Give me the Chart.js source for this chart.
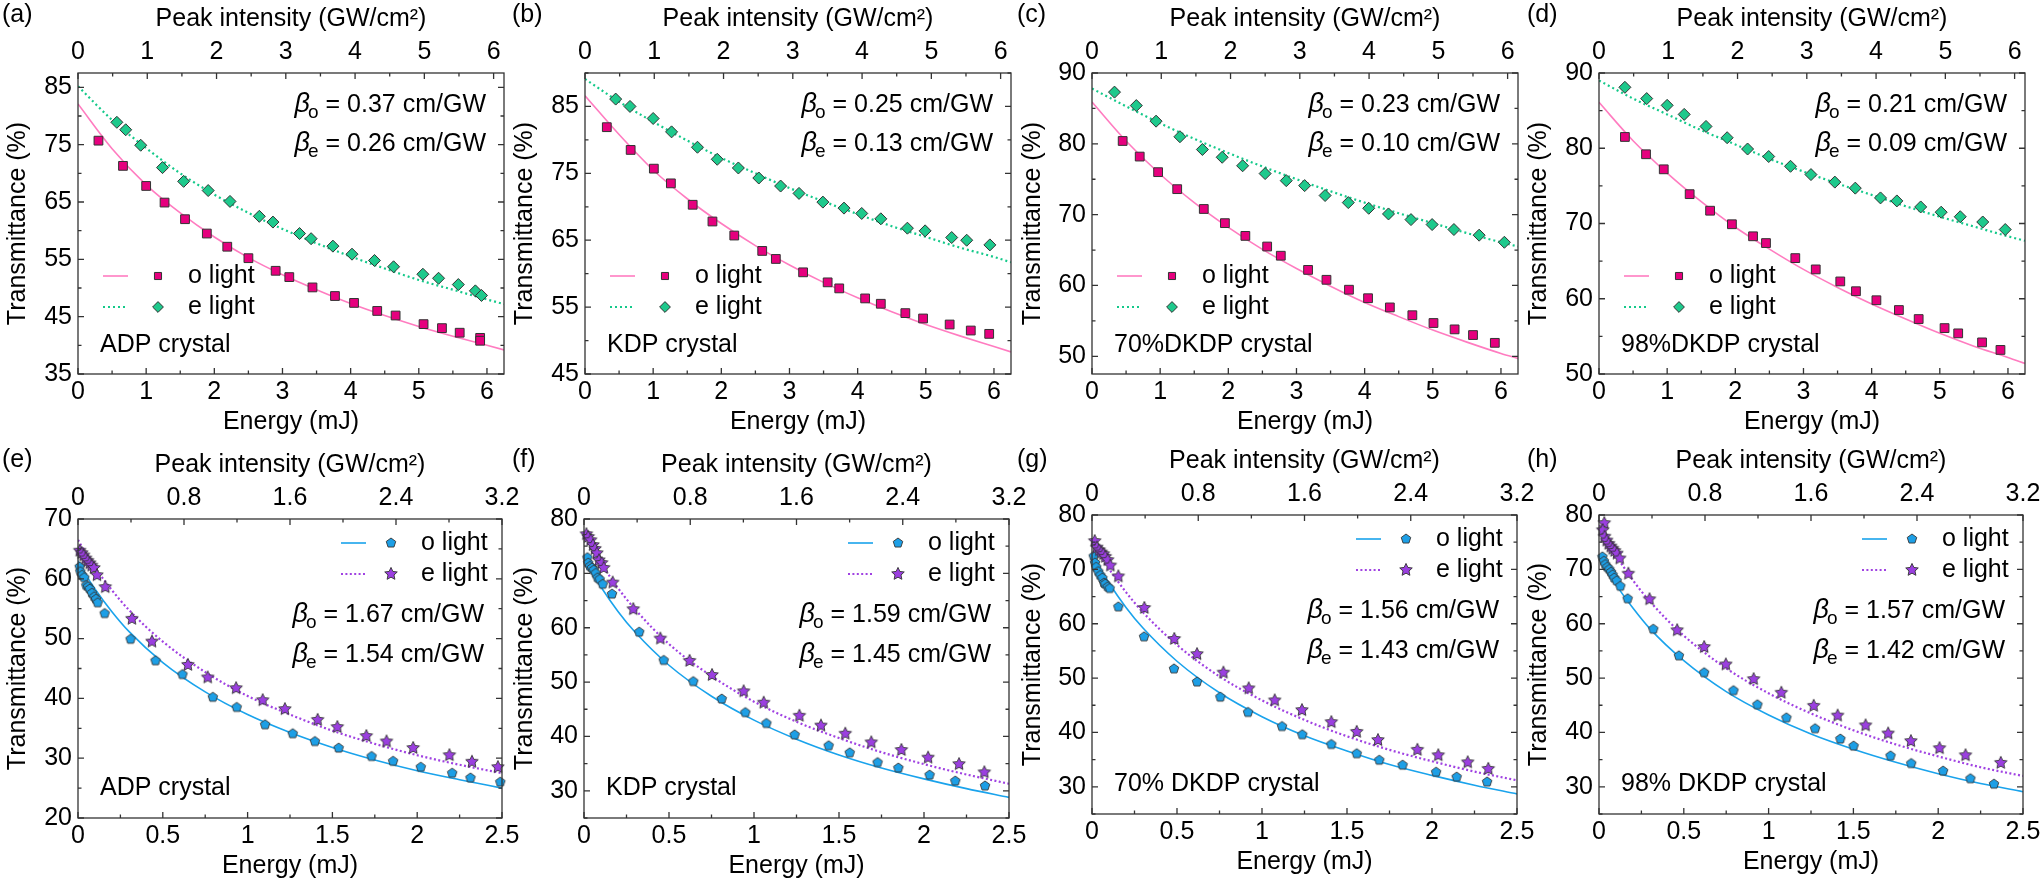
<!DOCTYPE html>
<html>
<head>
<meta charset="utf-8">
<title>Transmittance vs energy</title>
<script src="https://cdn.jsdelivr.net/npm/chart.js@4.4.1/dist/chart.umd.min.js"></script>
<style>
  html, body { margin: 0; padding: 0; background: #fff; }
  body { position: relative; width: 2043px; height: 883px; overflow: hidden; }
  canvas { position: absolute; }
</style>
</head>
<body>
<script>
// ---- data ----
// energy grids the fitted curves were read at
const fitGridTop = [0, 0.5, 1, 1.5, 2, 2.5, 3, 3.5, 4, 4.5, 5, 5.5, 6, 6.25];
const fitGridBottom = [0, 0.05, 0.1, 0.2, 0.3, 0.5, 0.75, 1, 1.25, 1.5, 1.75, 2, 2.25, 2.5];

// (a) ADP
const aOEnergy = [0.30, 0.66, 1.00, 1.27, 1.57, 1.89, 2.19, 2.50, 2.90, 3.10, 3.44, 3.77, 4.05, 4.39, 4.66, 5.07, 5.34, 5.60, 5.90, 5.90];
const aOTrans = [75.7, 71.3, 67.8, 64.9, 62.0, 59.5, 57.2, 55.2, 53.0, 51.9, 50.1, 48.6, 47.4, 46.0, 45.2, 43.7, 43.0, 42.2, 41.3, 40.8];
const aEEnergy = [0.57, 0.70, 0.92, 1.24, 1.55, 1.91, 2.23, 2.66, 2.86, 3.25, 3.42, 3.74, 4.02, 4.35, 4.63, 5.06, 5.29, 5.58, 5.83, 5.92];
const aETrans = [78.9, 77.6, 74.9, 71.0, 68.6, 67.0, 65.1, 62.5, 61.5, 59.5, 58.6, 57.3, 55.9, 54.8, 53.7, 52.4, 51.7, 50.6, 49.5, 48.7];
const aOFit = [82.1, 74.3, 68.0, 63.1, 58.9, 55.3, 52.3, 49.7, 47.3, 45.2, 43.3, 41.6, 40.0, 39.2];
const aEFit = [85.2, 79.3, 74.4, 70.0, 66.3, 63.1, 60.3, 57.8, 55.5, 53.4, 51.4, 49.7, 48.0, 47.2];

// (b) KDP
const bOEnergy = [0.32, 0.67, 1.01, 1.26, 1.58, 1.87, 2.19, 2.60, 2.80, 3.20, 3.56, 3.73, 4.11, 4.34, 4.70, 4.96, 5.35, 5.66, 5.93];
const bOTrans = [81.9, 78.5, 75.7, 73.5, 70.3, 67.8, 65.7, 63.4, 62.2, 60.2, 58.7, 57.8, 56.3, 55.5, 54.1, 53.3, 52.4, 51.5, 51.0];
const bEEnergy = [0.45, 0.66, 1.00, 1.27, 1.65, 1.94, 2.25, 2.55, 2.87, 3.14, 3.49, 3.80, 4.06, 4.34, 4.73, 4.99, 5.38, 5.60, 5.94];
const bETrans = [86.1, 85.0, 83.2, 81.2, 78.9, 77.1, 75.8, 74.3, 73.1, 72.0, 70.7, 69.8, 69.0, 68.2, 66.8, 66.4, 65.4, 65.0, 64.3];
const bOFit = [86.6, 80.8, 75.5, 71.2, 67.5, 64.2, 61.3, 58.7, 56.4, 54.3, 52.4, 50.7, 49.1, 48.3];
const bEFit = [89.1, 85.7, 82.7, 79.9, 77.3, 75.0, 72.8, 70.8, 68.9, 67.1, 65.5, 63.9, 62.5, 61.7];

// (c) 70% DKDP
const cOEnergy = [0.45, 0.70, 0.97, 1.25, 1.64, 1.95, 2.25, 2.57, 2.77, 3.17, 3.44, 3.77, 4.05, 4.37, 4.70, 5.01, 5.32, 5.59, 5.91];
const cOTrans = [80.4, 78.2, 76.0, 73.6, 70.8, 68.8, 67.0, 65.5, 64.2, 62.2, 60.8, 59.4, 58.2, 56.9, 55.8, 54.7, 53.8, 53.0, 51.9];
const cEEnergy = [0.33, 0.65, 0.94, 1.29, 1.62, 1.91, 2.21, 2.54, 2.85, 3.12, 3.42, 3.76, 4.06, 4.35, 4.68, 4.99, 5.31, 5.68, 6.05];
const cETrans = [87.3, 85.4, 83.2, 81.0, 79.2, 78.1, 76.9, 75.8, 74.8, 74.1, 72.7, 71.7, 70.9, 70.1, 69.3, 68.6, 67.9, 67.1, 66.1];
const cOFit = [85.9, 80.4, 75.7, 71.7, 68.2, 65.1, 62.4, 59.9, 57.6, 55.6, 53.7, 52.0, 50.4, 49.7];
const cEFit = [87.8, 85.3, 82.9, 80.7, 78.7, 76.8, 75.0, 73.3, 71.7, 70.2, 68.8, 67.4, 66.1, 65.5];

// (d) 98% DKDP
const dOEnergy = [0.38, 0.69, 0.95, 1.33, 1.63, 1.95, 2.26, 2.45, 2.88, 3.18, 3.54, 3.77, 4.07, 4.40, 4.69, 5.07, 5.27, 5.62, 5.89];
const dOTrans = [81.5, 79.2, 77.2, 73.9, 71.7, 69.9, 68.3, 67.4, 65.4, 63.9, 62.3, 61.0, 59.8, 58.5, 57.3, 56.1, 55.4, 54.2, 53.2];
const dEEnergy = [0.38, 0.70, 1.00, 1.25, 1.57, 1.88, 2.18, 2.49, 2.81, 3.11, 3.46, 3.76, 4.13, 4.37, 4.72, 5.02, 5.30, 5.63, 5.96];
const dETrans = [88.1, 86.6, 85.7, 84.5, 82.9, 81.4, 79.9, 78.9, 77.6, 76.5, 75.5, 74.7, 73.4, 73.0, 72.2, 71.5, 70.9, 70.2, 69.2];
const dOFit = [86.1, 81.0, 76.7, 72.9, 69.5, 66.6, 63.9, 61.5, 59.3, 57.3, 55.4, 53.7, 52.2, 51.4];
const dEFit = [89.0, 86.6, 84.5, 82.4, 80.5, 78.6, 76.9, 75.3, 73.8, 72.3, 70.9, 69.6, 68.3, 67.7];

// (e) ADP
const eOEnergy = [0.01, 0.014, 0.024, 0.037, 0.049, 0.059, 0.069, 0.082, 0.096, 0.106, 0.116, 0.157, 0.31, 0.457, 0.616, 0.795, 0.936, 1.103, 1.266, 1.397, 1.537, 1.731, 1.858, 2.021, 2.206, 2.314, 2.49];
const eOTrans = [62.0, 61.2, 60.6, 60.2, 58.9, 58.7, 58.3, 57.6, 57.0, 56.6, 56.0, 54.2, 49.9, 46.3, 44.0, 40.2, 38.5, 35.6, 34.1, 32.8, 31.7, 30.3, 29.5, 28.5, 27.5, 26.7, 26.0];
const eEEnergy = [0.01, 0.022, 0.033, 0.045, 0.057, 0.069, 0.080, 0.094, 0.112, 0.161, 0.318, 0.436, 0.648, 0.765, 0.932, 1.089, 1.22, 1.413, 1.529, 1.70, 1.819, 1.976, 2.19, 2.323, 2.476];
const eETrans = [64.7, 64.3, 63.9, 63.4, 63.0, 62.6, 62.2, 61.8, 60.6, 58.6, 53.3, 49.5, 45.6, 43.5, 41.7, 39.7, 38.2, 36.4, 35.2, 33.7, 32.8, 31.7, 30.5, 29.4, 28.5];
const eOFit = [63.0, 60.5, 58.3, 54.5, 51.2, 46.0, 41.1, 37.3, 34.3, 31.8, 29.7, 27.9, 26.4, 25.0];
const eEFit = [66.5, 64.1, 61.9, 58.1, 54.8, 49.5, 44.4, 40.4, 37.3, 34.6, 32.4, 30.5, 28.9, 27.5];

// (f) KDP
const fOEnergy = [0.02, 0.025, 0.035, 0.047, 0.057, 0.069, 0.08, 0.092, 0.11, 0.165, 0.325, 0.469, 0.643, 0.81, 0.949, 1.073, 1.239, 1.439, 1.563, 1.727, 1.849, 2.033, 2.184, 2.359];
const fOTrans = [72.9, 71.9, 71.3, 71.0, 70.6, 70.0, 69.2, 68.9, 68.0, 66.2, 59.2, 54.0, 50.1, 46.9, 44.4, 42.4, 40.3, 38.3, 37.0, 35.2, 34.2, 32.9, 31.8, 30.9];
const fEEnergy = [0.014, 0.025, 0.039, 0.053, 0.065, 0.076, 0.088, 0.104, 0.116, 0.169, 0.29, 0.449, 0.621, 0.753, 0.939, 1.057, 1.267, 1.394, 1.537, 1.69, 1.867, 2.024, 2.206, 2.355];
const fETrans = [77.2, 76.7, 76.1, 75.2, 74.5, 73.7, 72.4, 71.9, 71.0, 68.3, 63.4, 58.0, 53.9, 51.3, 48.3, 46.2, 43.8, 42.0, 40.5, 38.9, 37.5, 36.1, 34.9, 33.4];
const fOFit = [73.0, 70.1, 67.5, 63.0, 59.2, 53.1, 47.4, 43.0, 39.5, 36.6, 34.2, 32.2, 30.4, 28.8];
const fEFit = [77.4, 74.5, 71.9, 67.3, 63.4, 57.0, 51.1, 46.4, 42.7, 39.7, 37.1, 34.9, 33.0, 31.3];

// (g) 70% DKDP
const gOEnergy = [0.01, 0.018, 0.025, 0.037, 0.049, 0.061, 0.071, 0.078, 0.092, 0.104, 0.155, 0.306, 0.482, 0.618, 0.755, 0.918, 1.118, 1.237, 1.408, 1.557, 1.69, 1.827, 2.024, 2.145, 2.324];
const gOTrans = [72.4, 71.2, 70.4, 69.6, 68.9, 68.4, 67.5, 67.3, 66.8, 66.5, 63.1, 57.6, 51.7, 49.3, 46.5, 43.7, 41.1, 39.6, 37.8, 36.1, 34.9, 34.0, 32.7, 31.8, 30.9];
const gEEnergy = [0.016, 0.029, 0.043, 0.055, 0.067, 0.078, 0.092, 0.108, 0.155, 0.308, 0.484, 0.618, 0.773, 0.922, 1.075, 1.235, 1.408, 1.557, 1.682, 1.914, 2.037, 2.21, 2.331];
const gETrans = [75.2, 74.0, 73.5, 73.1, 72.8, 72.3, 71.7, 70.7, 68.7, 62.9, 57.2, 54.4, 51.0, 48.1, 45.9, 44.1, 41.9, 40.1, 38.6, 36.8, 35.8, 34.5, 33.3];
const gOFit = [73.0, 70.1, 67.5, 63.0, 59.2, 53.1, 47.3, 42.9, 39.4, 36.6, 34.1, 32.1, 30.3, 28.7];
const gEFit = [75.3, 72.6, 70.1, 65.8, 62.1, 56.1, 50.3, 45.9, 42.3, 39.3, 36.8, 34.7, 32.8, 31.2];

// (h) 98% DKDP
const hOEnergy = [0.02, 0.029, 0.037, 0.049, 0.061, 0.071, 0.08, 0.09, 0.104, 0.126, 0.169, 0.32, 0.471, 0.62, 0.793, 0.934, 1.105, 1.274, 1.423, 1.501, 1.719, 1.841, 2.029, 2.19, 2.329];
const hOTrans = [72.3, 71.5, 70.9, 70.4, 70.0, 69.5, 69.0, 68.4, 67.9, 66.9, 64.6, 59.0, 54.1, 51.0, 47.7, 45.1, 42.7, 40.7, 38.8, 37.5, 35.7, 34.3, 32.9, 31.5, 30.5];
const hEEnergy = [0.031, 0.022, 0.033, 0.045, 0.057, 0.069, 0.08, 0.092, 0.106, 0.122, 0.173, 0.298, 0.461, 0.62, 0.748, 0.912, 1.075, 1.266, 1.407, 1.572, 1.705, 1.839, 2.008, 2.161, 2.369];
const hETrans = [78.5, 77.2, 76.0, 75.3, 74.7, 74.2, 73.8, 73.4, 72.9, 72.0, 69.2, 64.5, 58.8, 55.7, 52.5, 49.8, 47.3, 44.9, 43.1, 41.3, 39.8, 38.4, 37.1, 35.8, 34.4];
const hOFit = [72.5, 69.7, 67.2, 62.9, 59.1, 53.2, 47.5, 43.2, 39.7, 36.9, 34.5, 32.4, 30.6, 29.1];
const hEFit = [78.1, 75.2, 72.6, 68.0, 64.1, 57.8, 51.8, 47.2, 43.5, 40.4, 37.8, 35.6, 33.6, 32.0];

// tick labels
const energyTicksTop = [0, 1, 2, 3, 4, 5, 6];
const peakTicksTop = [0, 1, 2, 3, 4, 5, 6];
const energyTicksBottom = [0, 0.5, 1, 1.5, 2, 2.5];
const peakTicksBottom = [0, 0.8, 1.6, 2.4, 3.2];
const yTicksA = [35, 45, 55, 65, 75, 85];
const yTicksB = [45, 55, 65, 75, 85];
const yTicksCD = [50, 60, 70, 80, 90];
const yTicksE = [20, 30, 40, 50, 60, 70];
const yTicksFGH = [30, 40, 50, 60, 70, 80];

const letters = ['(a)', '(b)', '(c)', '(d)', '(e)', '(f)', '(g)', '(h)'];
const crystals = ['ADP crystal', 'KDP crystal', '70%DKDP crystal', '98%DKDP crystal',
                  'ADP crystal', 'KDP crystal', '70% DKDP crystal', '98% DKDP crystal'];
const betaO = ['0.37', '0.25', '0.23', '0.21', '1.67', '1.59', '1.56', '1.57'];
const betaE = ['0.26', '0.13', '0.10', '0.09', '1.54', '1.45', '1.43', '1.42'];

// ---- layout (page pixels) ----
const canvasLeft = [0, 507, 1015, 1521];
const letterX = [2, 512, 1017, 1527];
// plot area: left, top, right, bottom
const plotBoxes = [
  [78, 73, 504, 374], [585, 73, 1011, 374], [1092, 73, 1518, 374], [1599, 73, 2025, 374],
  [78, 519, 502, 818], [584, 519, 1009, 818], [1092, 515, 1517, 814], [1599, 515, 2023, 814]
];
const yRanges = [[35, 87.5], [45, 90], [47.5, 90], [50, 90], [20, 70], [25, 80], [25, 80], [25, 80]];

const FONT = '"Liberation Sans", Arial, Helvetica, sans-serif';
Chart.defaults.font.family = FONT;
Chart.defaults.color = '#000';

function shape(kind, r, fill) {
  const s = Math.ceil(2 * r + 4);
  const c = document.createElement('canvas');
  c.width = s; c.height = s;
  const g = c.getContext('2d');
  g.translate(s / 2, s / 2);
  g.beginPath();
  const n = kind === 'star' ? 10 : 5;
  for (let i = 0; i < n; i++) {
    const ang = -Math.PI / 2 + i * 2 * Math.PI / n;
    const rr = (kind === 'star' && i % 2) ? r * 0.48 : r;
    g.lineTo(rr * Math.cos(ang), rr * Math.sin(ang));
  }
  g.closePath();
  g.fillStyle = fill; g.fill();
  g.lineWidth = 0.9; g.strokeStyle = '#333'; g.stroke();
  return c;
}

const topStyle = {
  oFill: '#e6007e', oLine: '#ff7cc0', eFill: '#1ec98c', eLine: '#14c98a',
  oPoint: 'rect', oRadius: 6.2, ePoint: 'rectRot', eRadius: 6, eDash: [2, 3],
  legO: 'rect', legORadius: 5, legE: 'rectRot', legERadius: 5.4
};
const pent = shape('pent', 5, '#1d9fe6');
const star = shape('star', 6.6, '#9b3fe0');
const bottomStyle = {
  oFill: '#1d9fe6', oLine: '#1aa3ec', eFill: '#9b3fe0', eLine: '#a042e2',
  oPoint: pent, oRadius: 5, ePoint: star, eRadius: 6, eDash: [2, 2.4],
  legO: pent, legE: star
};

const panels = [
  { oE: aOEnergy, oT: aOTrans, eE: aEEnergy, eT: aETrans, oFit: aOFit, eFit: aEFit, yTicks: yTicksA },
  { oE: bOEnergy, oT: bOTrans, eE: bEEnergy, eT: bETrans, oFit: bOFit, eFit: bEFit, yTicks: yTicksB },
  { oE: cOEnergy, oT: cOTrans, eE: cEEnergy, eT: cETrans, oFit: cOFit, eFit: cEFit, yTicks: yTicksCD },
  { oE: dOEnergy, oT: dOTrans, eE: dEEnergy, eT: dETrans, oFit: dOFit, eFit: dEFit, yTicks: yTicksCD },
  { oE: eOEnergy, oT: eOTrans, eE: eEEnergy, eT: eETrans, oFit: eOFit, eFit: eEFit, yTicks: yTicksE },
  { oE: fOEnergy, oT: fOTrans, eE: fEEnergy, eT: fETrans, oFit: fOFit, eFit: fEFit, yTicks: yTicksFGH },
  { oE: gOEnergy, oT: gOTrans, eE: gEEnergy, eT: gETrans, oFit: gOFit, eFit: gEFit, yTicks: yTicksFGH },
  { oE: hOEnergy, oT: hOTrans, eE: hEEnergy, eT: hETrans, oFit: hOFit, eFit: hEFit, yTicks: yTicksFGH }
];

function pts(xs, ys) {
  return xs.map((x, i) => ({ x: x, y: ys[i] }));
}

// minor ticks sit halfway between the labelled ones
function halfSteps(major, min, max) {
  const step = major[1] - major[0];
  const out = [];
  for (let v = major[0] - step / 2; v <= max + 1e-9; v += step) {
    if (v >= min - 1e-9) out.push(v);
  }
  return out;
}

function drawMarker(ctx, kind, r, x, y, fill) {
  if (kind instanceof HTMLCanvasElement) {
    ctx.drawImage(kind, x - kind.width / 2, y - kind.height / 2);
    return;
  }
  ctx.beginPath();
  if (kind === 'rect') {
    const h = r * Math.SQRT1_2;
    ctx.rect(x - h, y - h, 2 * h, 2 * h);
  } else {
    ctx.moveTo(x - r, y); ctx.lineTo(x, y - r); ctx.lineTo(x + r, y); ctx.lineTo(x, y + r);
    ctx.closePath();
  }
  ctx.fillStyle = fill; ctx.fill();
  ctx.setLineDash([]); ctx.lineWidth = 1; ctx.strokeStyle = '#333'; ctx.stroke();
}

function drawBeta(ctx, right, y, sub, val) {
  const main = ' = ' + val + ' cm/GW';
  ctx.font = '25px ' + FONT;
  const wm = ctx.measureText(main).width;
  ctx.font = '19px ' + FONT;
  const ws = ctx.measureText(sub).width;
  ctx.font = 'italic 27px ' + FONT;
  const wb = ctx.measureText('\u03b2').width;
  const base = y + 9;
  let x = right - wm - ws - wb + 2;
  ctx.textAlign = 'left';
  ctx.textBaseline = 'alphabetic';
  ctx.fillText('\u03b2', x, base);
  ctx.font = '19px ' + FONT;
  ctx.fillText(sub, x + wb - 2, base + 6);
  ctx.font = '25px ' + FONT;
  ctx.fillText(main, x + wb - 2 + ws, base);
}

function framePlugin(i, st) {
  const isTop = i < 4;
  return {
    id: 'frame' + i,
    afterDraw(chart) {
      const ctx = chart.ctx;
      const a = chart.chartArea;
      const sx = chart.scales.x, sx2 = chart.scales.x2, sy = chart.scales.y;
      ctx.save();
      ctx.strokeStyle = '#333';
      ctx.lineWidth = 1.3;
      ctx.setLineDash([]);
      ctx.beginPath();
      const eT = isTop ? energyTicksTop : energyTicksBottom;
      const pT = isTop ? peakTicksTop : peakTicksBottom;
      const yT = panels[i].yTicks;
      const marks = (vals, len, fn) => vals.forEach(v => fn(v, len));
      const bx = (v, len) => { const p = sx.getPixelForValue(v); ctx.moveTo(p, a.bottom); ctx.lineTo(p, a.bottom - len); };
      const tx = (v, len) => { const p = sx2.getPixelForValue(v); ctx.moveTo(p, a.top); ctx.lineTo(p, a.top + len); };
      const ly = (v, len) => {
        const p = sy.getPixelForValue(v);
        ctx.moveTo(a.left, p); ctx.lineTo(a.left + len, p);
        ctx.moveTo(a.right, p); ctx.lineTo(a.right - len, p);
      };
      marks(eT, 6, bx); marks(halfSteps(eT, sx.min, sx.max), 3.5, bx);
      marks(pT, 6, tx); marks(halfSteps(pT, sx2.min, sx2.max), 3.5, tx);
      marks(yT, 6, ly); marks(halfSteps(yT, sy.min, sy.max), 3.5, ly);
      ctx.stroke();
      ctx.strokeRect(a.left, a.top, a.right - a.left, a.bottom - a.top);

      ctx.fillStyle = '#000';
      // panel letter
      ctx.font = '25px ' + FONT;
      ctx.textAlign = 'left';
      ctx.textBaseline = 'middle';
      const cx = canvasLeft[i % 4], cy = isTop ? 0 : 440;
      ctx.fillText(letters[i], letterX[i % 4] - cx, (isTop ? 15 : 460) - cy);

      // crystal name
      ctx.fillText(crystals[i], a.left + 22, a.bottom - (isTop ? 29 : 30));

      // legend: line sample, marker, label
      const ds = chart.data.datasets;
      const rows = isTop ? [a.bottom - 98, a.bottom - 67] : [a.top + 24, a.top + 55];
      const x0 = isTop ? a.left + 25 : a.right - 161;
      const mOff = isTop ? 55 : 50, tOff = isTop ? 85 : 80;
      [[ds[2], ds[0], st.legO, st.legORadius, 'o light'], [ds[3], ds[1], st.legE, st.legERadius, 'e light']]
        .forEach((e, k) => {
          const y = rows[k];
          ctx.beginPath();
          ctx.strokeStyle = e[1].borderColor;
          ctx.lineWidth = e[1].borderWidth;
          ctx.setLineDash(e[1].borderDash || []);
          ctx.moveTo(x0, y); ctx.lineTo(x0 + 25, y);
          ctx.stroke();
          drawMarker(ctx, e[2], e[3], x0 + mOff, y, e[0].pointBackgroundColor);
          ctx.fillStyle = '#000';
          ctx.font = '25px ' + FONT;
          ctx.textAlign = 'left';
          ctx.textBaseline = 'middle';
          ctx.fillText(e[4], x0 + tOff, y);
        });

      // two-photon absorption coefficients
      const by = isTop ? [a.top + 30, a.top + 69] : [a.top + 94, a.top + 134];
      drawBeta(ctx, a.right - 18, by[0], 'o', betaO[i]);
      drawBeta(ctx, a.right - 18, by[1], 'e', betaE[i]);
      ctx.restore();
    }
  };
}

panels.forEach((p, i) => {
  const isTop = i < 4;
  const st = isTop ? topStyle : bottomStyle;
  const [L, T, R, B] = plotBoxes[i];
  const cx = canvasLeft[i % 4];
  const cy = isTop ? 0 : 440;
  const ch = isTop ? 440 : 443;
  const cw = R - cx + 30;
  const grid = isTop ? fitGridTop : fitGridBottom;

  const canvas = document.createElement('canvas');
  canvas.width = cw; canvas.height = ch;
  canvas.style.left = cx + 'px';
  canvas.style.top = cy + 'px';
  canvas.style.width = cw + 'px';
  canvas.style.height = ch + 'px';
  document.body.appendChild(canvas);

  const tickFont = { size: 25, lineHeight: 1.2 };
  const fixTicks = vals => s => { s.ticks = vals.map(v => ({ value: v })); };

  new Chart(canvas, {
    type: 'scatter',
    data: {
      datasets: [
        { type: 'line', label: 'o fit', data: pts(grid, p.oFit), borderColor: st.oLine, borderWidth: 1.6,
          pointRadius: 0, fill: false, cubicInterpolationMode: 'monotone', order: 2 },
        { type: 'line', label: 'e fit', data: pts(grid, p.eFit), borderColor: st.eLine, borderWidth: 2.2,
          borderDash: st.eDash, pointRadius: 0, fill: false, cubicInterpolationMode: 'monotone', order: 2 },
        { label: 'o light', data: pts(p.oE, p.oT), pointStyle: st.oPoint, pointRadius: st.oRadius,
          pointBackgroundColor: st.oFill, pointBorderColor: '#333', pointBorderWidth: 1, clip: false, order: 1 },
        { label: 'e light', data: pts(p.eE, p.eT), pointStyle: st.ePoint, pointRadius: st.eRadius,
          pointBackgroundColor: st.eFill, pointBorderColor: '#333', pointBorderWidth: 1, clip: false, order: 0 }
      ]
    },
    options: {
      responsive: false,
      animation: false,
      devicePixelRatio: 1,
      layout: { padding: { left: 0, top: 0, bottom: 0, right: 30 } },
      plugins: { legend: { display: false }, tooltip: { enabled: false } },
      scales: {
        x: {
          type: 'linear', position: 'bottom', min: 0, max: isTop ? 6.25 : 2.5,
          grid: { display: false, drawTicks: false }, border: { display: false },
          ticks: { font: tickFont, color: '#000', padding: 3, autoSkip: false, maxRotation: 0, callback: v => String(v) },
          title: { display: true, text: 'Energy (mJ)', color: '#000', font: tickFont,
                   padding: { top: 0, bottom: (cy + ch - B) - 63 } },
          afterBuildTicks: fixTicks(isTop ? energyTicksTop : energyTicksBottom),
          afterFit: s => { s.height = cy + ch - B; }
        },
        x2: {
          type: 'linear', position: 'top', min: 0, max: isTop ? 6.15 : 3.2,
          grid: { display: false, drawTicks: false }, border: { display: false },
          ticks: { font: tickFont, color: '#000', padding: 6, autoSkip: false, maxRotation: 0, callback: v => String(v) },
          title: { display: true, text: 'Peak intensity (GW/cm\u00b2)', color: '#000', font: tickFont,
                   padding: { top: (T - cy) - 69, bottom: 0 } },
          afterBuildTicks: fixTicks(isTop ? peakTicksTop : peakTicksBottom),
          afterFit: s => { s.height = T - cy; }
        },
        y: {
          type: 'linear', position: 'left', min: yRanges[i][0], max: yRanges[i][1],
          grid: { display: false, drawTicks: false }, border: { display: false },
          ticks: { font: tickFont, color: '#000', padding: 6, autoSkip: false, callback: v => String(v) },
          title: { display: true, text: 'Transmittance (%)', color: '#000', font: tickFont,
                   padding: { top: 3, bottom: 0 } },
          afterBuildTicks: fixTicks(p.yTicks),
          afterFit: s => { s.width = L - cx; }
        }
      }
    },
    plugins: [framePlugin(i, st)]
  });
});
</script>
</body>
</html>
